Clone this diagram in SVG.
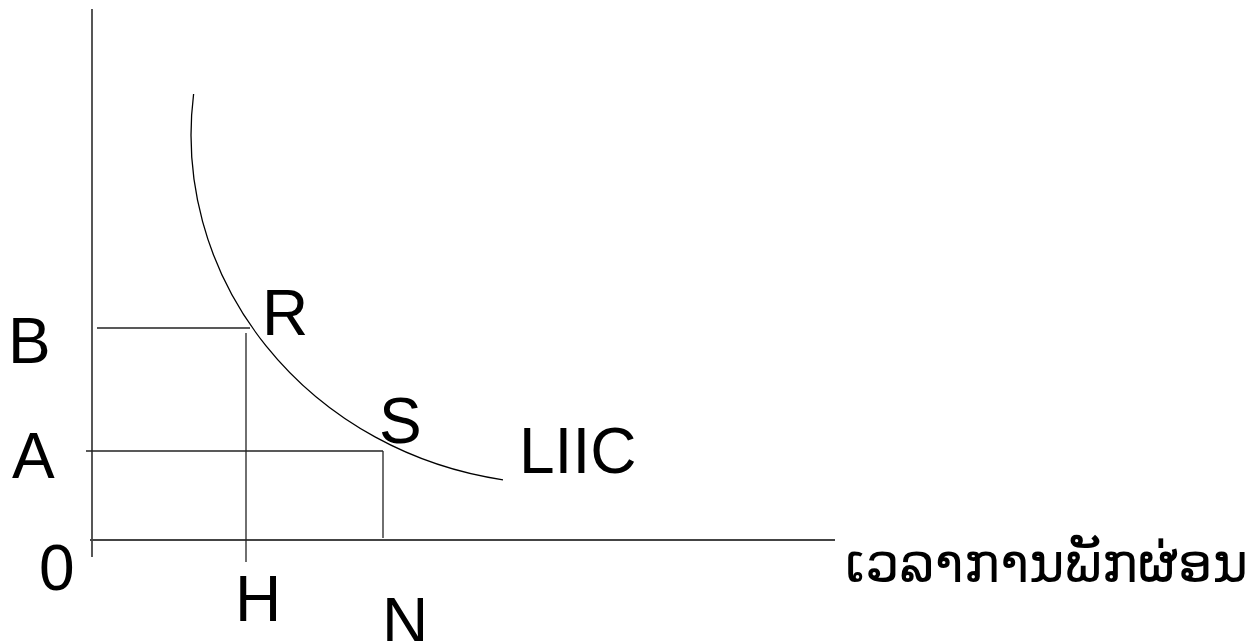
<svg xmlns="http://www.w3.org/2000/svg" width="1255" height="641" viewBox="0 0 1255 641">
<style>
.lbl{font-family:"Liberation Sans",Arial,sans-serif;font-size:64px;fill:#000}
.lao{font-family:"DejaVu Sans",sans-serif;font-size:56px;fill:#000}
.axis{stroke:#444;stroke-width:1.8;fill:none}
.ln{stroke:#222;stroke-width:1.3;fill:none}
.curve{stroke:#000;stroke-width:1.3;fill:none}
</style>
<rect width="1255" height="641" fill="#fff"/>
<g id="connectors">
<line class="axis" x1="92" y1="9" x2="92" y2="557"/>
<line class="axis" x1="90" y1="540" x2="835" y2="540"/>
<line class="ln" x1="97" y1="328" x2="250" y2="328"/>
<line class="ln" x1="246" y1="333" x2="246" y2="562"/>
<line class="ln" x1="86" y1="451" x2="383" y2="451"/>
<line class="ln" x1="383" y1="451" x2="383" y2="538"/>
<path class="curve" d="M193.6,94 A369,349 0 0 0 503,479.8"/>
</g>
<g id="label-B"><text class="lbl" x="8" y="363">B</text></g>
<g id="label-A"><text class="lbl" x="12" y="478">A</text></g>
<g id="label-0"><text class="lbl" x="39" y="590">0</text></g>
<g id="label-H"><text class="lbl" x="235" y="621">H</text></g>
<g id="label-N"><text class="lbl" x="382" y="643">N</text></g>
<g id="label-R"><text class="lbl" x="262" y="335">R</text></g>
<g id="label-S"><text class="lbl" x="379" y="443">S</text></g>
<g id="label-LIIC"><text class="lbl" x="519" y="473">LIIC</text></g>
<g id="label-x"><text class="lao" x="845" y="582" textLength="403" lengthAdjust="spacingAndGlyphs">ເວລາການພັກຜ່ອນ</text></g>
</svg>
